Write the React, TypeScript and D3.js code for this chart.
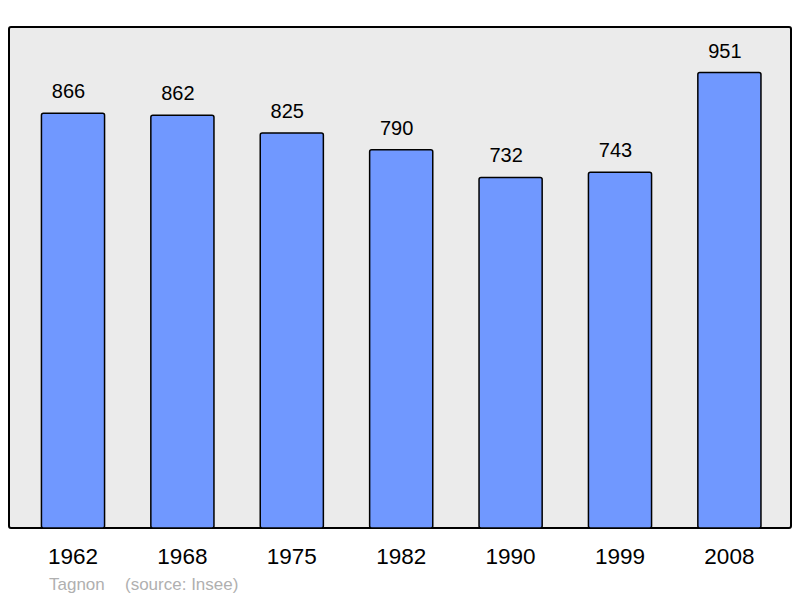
import React from "react";
import * as d3 from "d3";

const years = ["1962", "1968", "1975", "1982", "1990", "1999", "2008"];
const population = [866, 862, 825, 790, 732, 743, 951];
const commune = "Tagnon";
const source = "(source: Insee)";

export default function App() {
  const W = 800, H = 598;
  const frame = { x: 9, y: 27, w: 782, h: 501 };
  const baseY = frame.y + frame.h;
  const x = d3.scaleBand<string>().domain(years).range([18.3, 784.1]).padding(0);
  const y = d3.scaleLinear().domain([0, 951 * 1.1]).range([baseY, frame.y]);
  const bw = x.bandwidth() * 0.577;
  const font = "'Liberation Sans', Arial, sans-serif";
  return (
    <svg width={W} height={H} style={{ position: "absolute", left: 0, top: 0 }} fontFamily={font}>
      <rect x={frame.x} y={frame.y} width={frame.w} height={frame.h} rx={2} fill="#ebebeb" stroke="#000" strokeWidth={2} />
      {years.map((yr, i) => {
        const cx = (x(yr) as number) + x.bandwidth() / 2;
        const top = y(population[i]);
        return (
          <g key={yr}>
            <rect x={cx - bw / 2} y={top} width={bw} height={baseY - top} rx={2} fill="#7098ff" stroke="#000" strokeWidth={1.5} />
            <text x={cx - 4.5} y={top - 15} textAnchor="middle" fontSize={20} fill="#000">{population[i]}</text>
            <text x={cx} y={564} textAnchor="middle" fontSize={22.5} fill="#000">{yr}</text>
          </g>
        );
      })}
      <text x={49} y={590} fontSize={17} fill="#b0b0b0">{commune}</text>
      <text x={125} y={590} fontSize={17} fill="#b0b0b0">{source}</text>
    </svg>
  );
}
